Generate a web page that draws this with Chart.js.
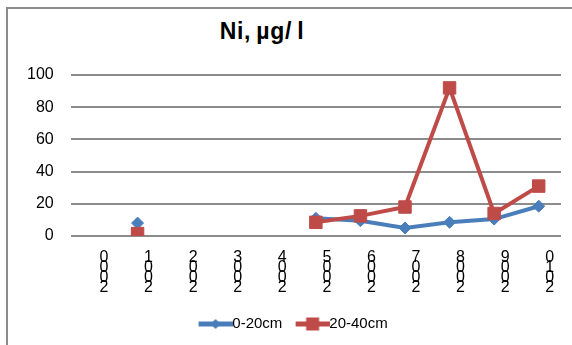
<!DOCTYPE html>
<html>
<head>
<meta charset="utf-8">
<script src="https://cdn.jsdelivr.net/npm/chart.js@4/dist/chart.umd.min.js"></script>
<style>
  html, body { margin: 0; padding: 0; background: #fff; overflow: hidden; width: 572px; height: 345px; }
  #frame { position: absolute; left: 6px; top: 7px; width: 640px; height: 420px; border: 2px solid #8b8b8b; box-sizing: border-box; }
  #title { position: absolute; left: 0; top: 20px; width: 524px; text-align: center;
           font: bold 23px "Liberation Sans", Arial, sans-serif; line-height: 22px; letter-spacing: 0.7px; word-spacing: -2px; color: #000; }
  #wrap { position: absolute; left: 25px; top: 0; width: 547px; height: 345px; }
</style>
</head>
<body>
<div id="frame"></div>
<div id="title">Ni, µg/ l</div>
<div id="wrap"><canvas id="c"></canvas></div>
<script>
// Sampling years
const years = ['2000', '2001', '2002', '2003', '2004', '2005', '2006', '2007', '2008', '2009', '2010'];
// Nickel concentration, µg/l, by sampling depth
const depth0to20 = [null, 8, null, null, null, 11, 9.5, 5, 8.5, 10.5, 18.5];
const depth20to40 = [null, 1.5, null, null, null, 8.5, 12.5, 18, 92, 14, 31];
const seriesNames = ['0-20cm', '20-40cm'];
// Value axis
const yMin = 0, yMax = 100, yStep = 20;

const BLUE = '#4a7ebb';
const RED = '#be4b48';
const FONT = '"Liberation Sans", Arial, sans-serif';

// Year labels are written with their digits stacked, read from bottom to top
const stackedYears = years.map(y => y.split('').reverse());

// Legend symbol: a short line with the series marker in the middle
function legendSymbol(color, shape) {
  const w = 42, h = 18;
  const cv = document.createElement('canvas');
  cv.width = w; cv.height = h;
  const g = cv.getContext('2d');
  const x0 = 8, x1 = w, cx = (x0 + x1) / 2, cy = h / 2;
  g.strokeStyle = color;
  g.lineWidth = 5;
  g.beginPath(); g.moveTo(x0, cy); g.lineTo(x1, cy); g.stroke();
  g.fillStyle = color;
  g.beginPath();
  if (shape === 'diamond') {
    g.moveTo(cx - 5, cy); g.lineTo(cx, cy - 5); g.lineTo(cx + 5, cy); g.lineTo(cx, cy + 5);
  } else {
    g.rect(cx - 6.5, cy - 6.5, 13, 13);
  }
  g.closePath(); g.fill();
  return cv;
}
const symbols = [legendSymbol(BLUE, 'diamond'), legendSymbol(RED, 'square')];

new Chart(document.getElementById('c'), {
  type: 'line',
  data: {
    labels: stackedYears,
    datasets: [
      {
        label: seriesNames[0],
        data: depth0to20,
        borderColor: BLUE,
        backgroundColor: BLUE,
        borderWidth: 4,
        pointStyle: 'rectRot',
        pointRadius: 6,
        pointBorderWidth: 1,
        pointBackgroundColor: BLUE,
        pointBorderColor: BLUE,
        tension: 0,
        spanGaps: false,
        order: 1
      },
      {
        label: seriesNames[1],
        data: depth20to40,
        borderColor: RED,
        backgroundColor: RED,
        borderWidth: 4,
        pointStyle: 'rect',
        pointRadius: 8.8,
        pointBorderWidth: 1,
        pointBackgroundColor: RED,
        pointBorderColor: RED,
        tension: 0,
        spanGaps: false,
        order: 0
      }
    ]
  },
  options: {
    responsive: true,
    maintainAspectRatio: false,
    animation: false,
    events: [],
    layout: { padding: { top: 75, right: 11, bottom: 3.5, left: 0 } },
    scales: {
      x: {
        type: 'category',
        offset: true,
        grid: { display: false, drawTicks: false },
        border: { display: false },
        ticks: {
          autoSkip: false,
          maxRotation: 0,
          minRotation: 0,
          labelOffset: 11,
          padding: 17,
          color: '#000',
          font: { family: FONT, size: 16, lineHeight: '10px' }
        },
        afterFit: s => { s.height = 67.5; }
      },
      y: {
        min: yMin,
        max: yMax,
        grid: { color: '#8c8c8c', lineWidth: 2, drawTicks: false },
        border: { display: false },
        ticks: {
          stepSize: yStep,
          padding: 17,
          color: '#000',
          font: { family: FONT, size: 16 }
        },
        afterFit: s => { s.width = 45.7; }
      }
    },
    plugins: {
      title: { display: false },
      tooltip: { enabled: false },
      legend: {
        position: 'bottom',
        labels: {
          usePointStyle: true,
          pointStyleWidth: 26.5,
          padding: 13,
          color: '#000',
          font: { family: FONT, size: 15 },
          generateLabels: chart => chart.data.datasets.map((ds, i) => ({
            text: ds.label,
            pointStyle: symbols[i],
            fillStyle: ds.borderColor,
            strokeStyle: ds.borderColor,
            lineWidth: 0,
            hidden: false,
            datasetIndex: i,
            fontColor: '#000'
          }))
        }
      }
    }
  }
});
</script>
</body>
</html>
